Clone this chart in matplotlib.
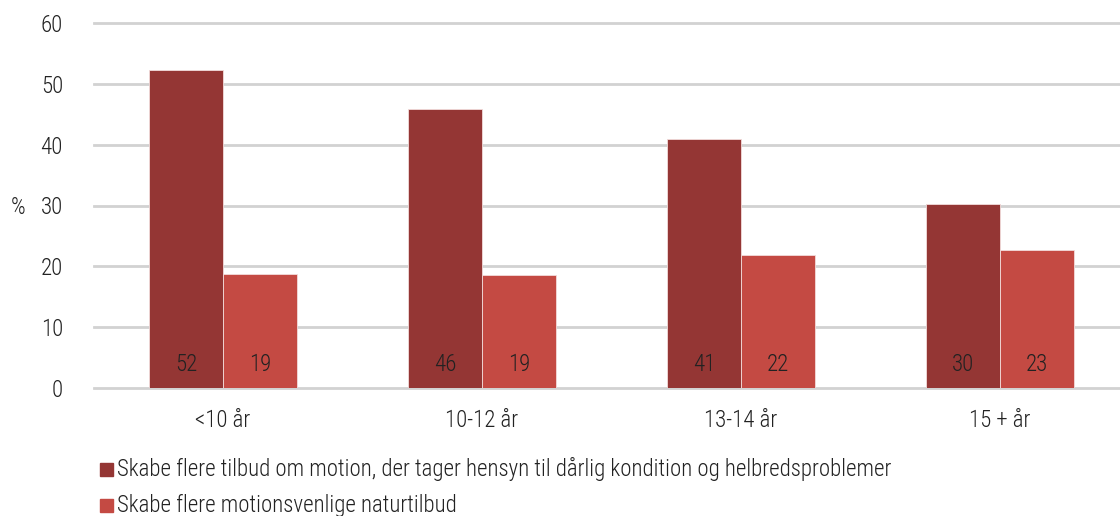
import numpy as np
import matplotlib.pyplot as plt
from matplotlib.patches import Rectangle

plt.rcParams["font.family"] = ["Roboto Condensed", "Roboto", "DejaVu Sans"]
plt.rcParams["font.weight"] = "light"

age_groups = ["<10 år", "10-12 år", "13-14 år", "15 + år"]
motion_offers = [52.3, 45.9, 40.9, 30.2]
nature_offers = [18.7, 18.6, 21.9, 22.7]
series_names = [
    "Skabe flere tilbud om motion, der tager hensyn til dårlig kondition og helbredsproblemer",
    "Skabe flere motionsvenlige naturtilbud",
]
colours = ["#943634", "#C44A43"]
text_col = "#222222"
fs = 16.5

fig = plt.figure(figsize=(11.2, 5.16), dpi=100)
ax = fig.add_axes([93.5 / 1120, 1 - 388 / 516, 1036 / 1120, 365 / 516])

x = np.arange(len(age_groups))
w = 0.286
for vals, off, col in [(motion_offers, -w / 2, colours[0]), (nature_offers, w / 2, colours[1])]:
    bars = ax.bar(x + off, vals, width=w, color=col, edgecolor="#f2dcdb",
                  linewidth=0.6, zorder=3)
    for b, v in zip(bars, vals):
        ax.text(b.get_x() + b.get_width() / 2, 3.9, f"{v:.0f}", ha="center",
                va="center", fontsize=fs, color=text_col, zorder=4)

ax.set_xlim(-0.5, 3.5)
ax.set_ylim(0, 60)
ax.set_yticks(range(0, 61, 10))
ax.yaxis.grid(True, color="#d2d2d2", linewidth=2.0, zorder=0)
for gl in ax.get_ygridlines():
    gl.set_clip_on(False)
ax.set_axisbelow(True)
for s in ax.spines.values():
    s.set_visible(False)
ax.tick_params(length=0, labelsize=fs, colors=text_col)
ax.tick_params(axis="y", pad=22)
ax.tick_params(axis="x", pad=15)
ax.set_xticks(x, age_groups)

fig.text(18 / 1120, 1 - 208 / 516, "%", fontsize=fs, color=text_col, ha="center", va="center")

# legend drawn by hand, one row per series
for i, (name, col) in enumerate(zip(series_names, colours)):
    yc = 1 - (469 + i * 36) / 516
    fig.patches.append(Rectangle((100 / 1120, yc - 6.5 / 516), 13 / 1120, 13 / 516,
                                 transform=fig.transFigure, color=col))
    fig.text(117 / 1120, yc, name, fontsize=fs, color=text_col, ha="left", va="center")

fig.savefig("out.png", dpi=100)
